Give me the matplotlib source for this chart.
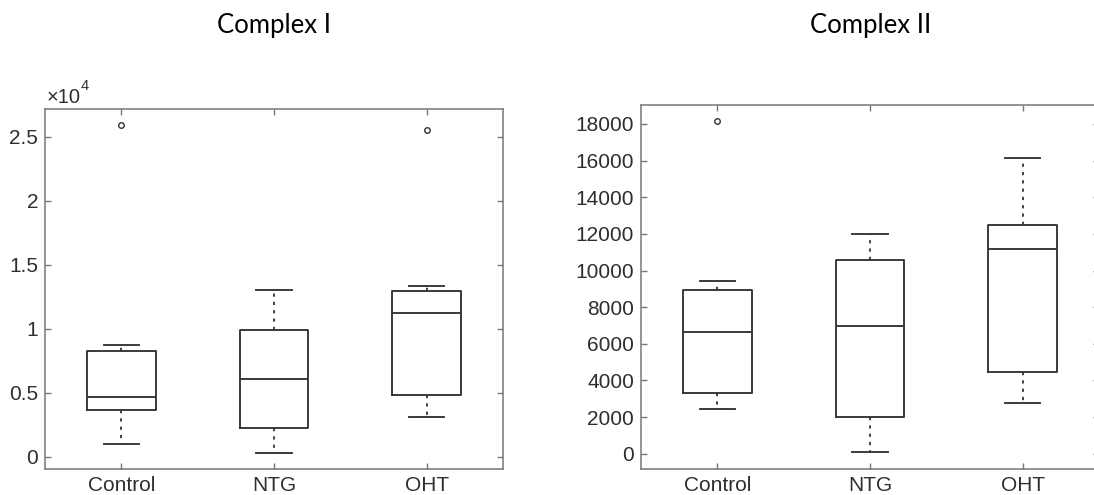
import matplotlib
matplotlib.use('Agg')
import matplotlib.pyplot as plt
from matplotlib.ticker import FuncFormatter

plt.rcParams['font.family'] = ['Liberation Sans', 'DejaVu Sans']

groups = ['Control', 'NTG', 'OHT']

# Complex I
c1_whislo = [1040, 340, 3100]
c1_q1 = [3670, 2290, 4840]
c1_med = [4710, 6090, 11210]
c1_q3 = [8250, 9890, 12930]
c1_whishi = [8720, 13030, 13350]
c1_fliers = [[25940], [], [25550]]

# Complex II
c2_whislo = [2420, 90, 2780]
c2_q1 = [3310, 2000, 4460]
c2_med = [6670, 6960, 11150]
c2_q3 = [8930, 10550, 12470]
c2_whishi = [9440, 11980, 16160]
c2_fliers = [[18160], [], []]

line_col = '#333333'
text_col = '#2e2e2e'
spine_col = '#777777'


def make_stats(lo, q1, med, q3, hi, fl):
    out = []
    for i in range(len(groups)):
        out.append(dict(label=groups[i], whislo=lo[i], q1=q1[i], med=med[i],
                        q3=q3[i], whishi=hi[i], fliers=fl[i]))
    return out


def draw(ax, stats):
    ax.bxp(stats, positions=[1, 2, 3], widths=0.45, showfliers=True,
           boxprops=dict(color=line_col, linewidth=1.35),
           medianprops=dict(color=line_col, linewidth=1.35),
           whiskerprops=dict(color=line_col, linewidth=1.3, linestyle=(0, (1.8, 2.8))),
           capprops=dict(color=line_col, linewidth=1.35),
           flierprops=dict(marker='o', markersize=4, markerfacecolor='none',
                           markeredgecolor=line_col, markeredgewidth=1.0),
           capwidths=0.23)
    ax.set_xlim(0.5, 3.5)
    ax.set_xticks([1, 2, 3])
    ax.set_xticklabels(groups)
    ax.tick_params(direction='in', top=True, right=True, length=4, width=1.0,
                   color=spine_col, labelsize=15, labelcolor=text_col, pad=5)
    for s in ax.spines.values():
        s.set_color(spine_col)
        s.set_linewidth(1.1)


fig = plt.figure(figsize=(10.94, 4.95), dpi=100)

ax1 = fig.add_axes([45 / 1094, 1 - 469 / 495, 458 / 1094, 360 / 495])
draw(ax1, make_stats(c1_whislo, c1_q1, c1_med, c1_q3, c1_whishi, c1_fliers))
ax1.set_ylim(-940, 27160)
ax1.set_yticks([0, 5000, 10000, 15000, 20000, 25000])
ax1.yaxis.set_major_formatter(FuncFormatter(lambda v, p: f'{v / 1e4:g}'))
t10 = ax1.text(0.004, 1.017, '\u00d710', transform=ax1.transAxes,
               fontsize=14.5, color=text_col, ha='left', va='baseline')
ax1.annotate('4', xy=(1, 0.72), xycoords=t10, fontsize=10.5, color=text_col,
             ha='left', va='bottom')

ax2 = fig.add_axes([641 / 1094, 1 - 469 / 495, 458 / 1094, 364 / 495])
draw(ax2, make_stats(c2_whislo, c2_q1, c2_med, c2_q3, c2_whishi, c2_fliers))
ax2.set_ylim(-836, 19036)
ax2.set_yticks(range(0, 18001, 2000))

fig.text(274 / 1094, 1 - 33 / 495, 'Complex I', ha='center', va='baseline',
         fontsize=18.5, family=['Lato', 'DejaVu Sans'], color='black')
fig.text(871 / 1094, 1 - 33 / 495, 'Complex II', ha='center', va='baseline',
         fontsize=18.5, family=['Lato', 'DejaVu Sans'], color='black')

fig.savefig('out.png', dpi=100)
